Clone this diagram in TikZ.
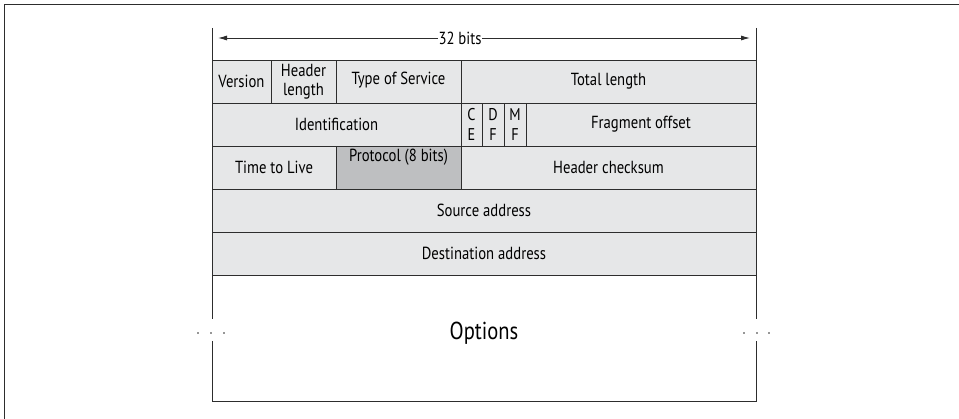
\documentclass[tikz,border=0pt]{standalone}
\usepackage{fontspec}
\setmainfont{PT Sans}[FakeStretch=0.84]
\usetikzlibrary{arrows.meta, positioning}
\usepackage{xcolor}
\definecolor{fieldgray}{RGB}{230,231,232}
\definecolor{protogray}{RGB}{190,191,193}
\definecolor{rulegray}{RGB}{45,45,45}

\begin{document}
\begin{tikzpicture}[x=1pt, y=-1pt,
  field/.style={draw=rulegray, line width=0.9pt, fill=fieldgray},
  fieldtext/.style={font=\fontsize{17.5}{19.5}\selectfont, align=center, inner sep=0.5pt, text=black},
  flagtext/.style={fieldtext, font=\fontsize{17}{20.5}\selectfont},
  edge/.style={draw=rulegray, line width=0.9pt}]
  \useasboundingbox (0,0) rectangle (959,419);

  % outer frame
  \draw[line width=1.3pt, rulegray] (4.5,419) -- (4.5,4.5) -- (959,4.5);

  % width arrow
  \node[fieldtext, fill=white] (bits) at (460,38) {32 bits};
  \coordinate (lefttip) at (218,38);
  \coordinate (righttip) at (750,38);
  \draw[edge, -{Latex[length=9pt, width=5pt]}] (bits.west) -- (lefttip);
  \draw[edge, -{Latex[length=9pt, width=5pt]}] (bits.east) -- (righttip);

  % row 1
  \draw[field] (212,60) rectangle (271,103) node[midway, fieldtext] (version) {Version};
  \draw[field] (271,60) rectangle (336,103) node[midway, fieldtext] (hlen) {Header\\length};
  \draw[field] (336,60) rectangle (461,103) node[midway, fieldtext, yshift=1pt] (tos) {Type of Service};
  \draw[field] (461,60) rectangle (756,103) node[midway, fieldtext] (total) {Total length};

  % row 2
  \draw[field] (212,103) rectangle (461,146) node[midway, fieldtext] (ident) {Identification};
  \draw[field] (461,103) rectangle (482,146) node[midway, flagtext] (ce) {C\\E};
  \draw[field] (482,103) rectangle (504,146) node[midway, flagtext] (df) {D\\F};
  \draw[field] (504,103) rectangle (526,146) node[midway, flagtext] (mf) {M\\F};
  \draw[field] (526,103) rectangle (756,146) node[midway, fieldtext] (frag) {Fragment offset};

  % row 3
  \draw[field] (212,146) rectangle (336,189) node[midway, fieldtext] (ttl) {Time to Live};
  \draw[field, fill=protogray] (336,146) rectangle (461,189);
  \node[fieldtext] (proto) at (398.5,157) {Protocol (8 bits)};
  \draw[field] (461,146) rectangle (756,189) node[midway, fieldtext] (csum) {Header checksum};

  % rows 4 and 5
  \draw[field] (212,189) rectangle (756,232) node[midway, fieldtext] (src) {Source address};
  \draw[field] (212,232) rectangle (756,275) node[midway, fieldtext] (dst) {Destination address};

  % options
  \draw[edge] (212,28) -- (212,60);
  \draw[edge] (756,28) -- (756,60);
  \draw[edge] (212,275) -- (212,319);
  \draw[edge] (756,275) -- (756,319);
  \draw[edge] (212,341) -- (212,401) -- (756,401) -- (756,341);
  \node[fieldtext, font=\fontsize{24.5}{27}\selectfont] (options) at (484,333) {Options};
  \foreach \x in {198,211,224,744,757,769}
    \fill[rulegray] (\x,333) circle (0.9pt);
\end{tikzpicture}
\end{document}
